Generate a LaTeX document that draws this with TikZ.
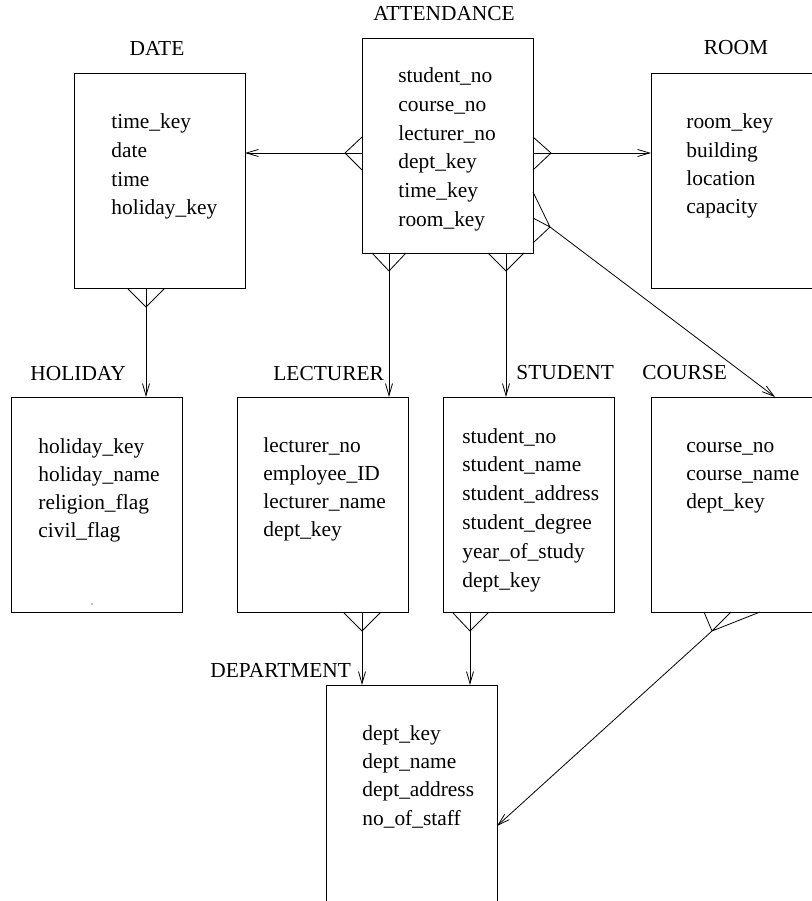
\documentclass[tikz,border=0pt]{standalone}
\usepackage{fontspec}
\usetikzlibrary{arrows.meta}
\newfontfamily\erfont{Liberation Serif}
\newcommand\fldfont{\erfont\fontsize{21.4}{28.5}\selectfont}
\begin{document}
\begin{tikzpicture}[x=1pt,y=-1pt,line width=0.8pt,
  box/.style={draw, rectangle, inner sep=0pt, outer sep=0pt, minimum width=171pt, minimum height=215pt},
  fld/.style={anchor=base west, inner sep=0pt, font=\fldfont},
  ttl/.style={anchor=base, inner sep=0pt, font=\fldfont},
  ttlw/.style={anchor=base west, inner sep=0pt, font=\fldfont},
  arr/.style={-{Straight Barb[length=12pt,width=7pt,line width=0.8pt]}}]
\useasboundingbox (0,0) rectangle (811,901);
% boxes
\node[box] (date) at (159.5,180.5) {};
\node[box] (att) at (447.5,145.5) {};
\node[box] (room) at (736.5,180.5) {};
\node[box] (hol) at (96.5,504.5) {};
\node[box] (lect) at (322.5,504.5) {};
\node[box] (stud) at (528.5,504.5) {};
\node[box] (course) at (736.5,504.5) {};
\node[box, minimum height=217pt] (dept) at (411.5,793.5) {};
% titles
\node[ttl] (tatt) at (444,21) {ATTENDANCE};
\node[ttl] (tdate) at (157,56) {DATE};
\node[ttl] (troom) at (736,55) {ROOM};
\node[ttlw] (thol) at (30,380) {HOLIDAY};
\node[ttlw] (tlect) at (273,380) {LECTURER};
\node[ttlw] (tstud) at (516,379) {STUDENT};
\node[ttlw] (tcourse) at (642,379) {COURSE};
\node[ttlw] (tdept) at (210,677) {DEPARTMENT};
% fields
\foreach \t [count=\i from 0] in {student\_no,course\_no,lecturer\_no,dept\_key,time\_key,room\_key}
  \node[fld] (att-\i) at (398,{83+28.6*\i}) {\t};
\foreach \t [count=\i from 0] in {time\_key,date,time,holiday\_key}
  \node[fld] (date-\i) at (111,{129+28.6*\i}) {\t};
\foreach \t [count=\i from 0] in {room\_key,building,location,capacity}
  \node[fld] (room-\i) at (686,{129+28.2*\i}) {\t};
\foreach \t [count=\i from 0] in {holiday\_key,holiday\_name,religion\_flag,civil\_flag}
  \node[fld] (hol-\i) at (38,{453+28.3*\i}) {\t};
\foreach \t [count=\i from 0] in {lecturer\_no,employee\_ID,lecturer\_name,dept\_key}
  \node[fld] (lect-\i) at (263,{452+28.3*\i}) {\t};
\foreach \t [count=\i from 0] in {student\_no,student\_name,student\_address,student\_degree,year\_of\_study,dept\_key}
  \node[fld] (stud-\i) at (462,{443+28.8*\i}) {\t};
\foreach \t [count=\i from 0] in {course\_no,course\_name,dept\_key}
  \node[fld] (course-\i) at (686,{452+28*\i}) {\t};
\foreach \t [count=\i from 0] in {dept\_key,dept\_name,dept\_address,no\_of\_staff}
  \node[fld] (dept-\i) at (362,{740+28.4*\i}) {\t};
% stray dot in HOLIDAY
\fill (92,604) circle (0.7pt);
% crow's feet tips
\coordinate (cfAL) at (345,153);
\coordinate (cfAR) at (551,153);
\coordinate (cfB1) at (389,271);
\coordinate (cfB2) at (506,271);
\coordinate (cfD) at (550,227);
\coordinate (cfDT) at (146,307);
\coordinate (cfL) at (362,631);
\coordinate (cfS) at (470,631);
\coordinate (cfC) at (712,631);
% ATTENDANCE -> DATE
\draw (cfAL) -- ++(17,-16) (cfAL) -- ++(17,17);
\draw[arr] (cfAL -| att.west) -- (cfAL -| date.east);
% ATTENDANCE -> ROOM
\draw (cfAR) -- ++(-18,-16) (cfAR) -- ++(-18,17);
\draw[arr] (cfAR -| att.east) -- (cfAR -| room.west);
% ATTENDANCE -> LECTURER
\draw (cfB1) -- ++(-17,-18) (cfB1) -- ++(17,-18);
\draw[arr] (cfB1 |- att.south) -- (cfB1 |- lect.north);
% ATTENDANCE -> STUDENT
\draw (cfB2) -- ++(-18,-18) (cfB2) -- ++(18,-18);
\draw[arr] (cfB2 |- att.south) -- (cfB2 |- stud.north);
% ATTENDANCE -> COURSE
\draw (cfD) -- (att.east |- 0,192) (cfD) -- (att.east |- 0,218) (cfD) -- (att.east |- 0,243);
\draw[arr] (cfD) -- ([xshift=38.5pt]course.north);
% DATE -> HOLIDAY
\draw (cfDT) -- ++(-18,-18) (cfDT) -- ++(18,-18);
\draw[arr] (cfDT |- date.south) -- (cfDT |- hol.north);
% LECTURER -> DEPARTMENT
\draw (cfL) -- ++(-18,-18) (cfL) -- ++(18,-18);
\draw[arr] (cfL |- lect.south) -- (cfL |- dept.north);
% STUDENT -> DEPARTMENT
\draw (cfS) -- ++(-17,-18) (cfS) -- ++(18,-18);
\draw[arr] (cfS |- stud.south) -- (cfS |- dept.north);
% COURSE -> DEPARTMENT
\draw (cfC) -- (704,612) (cfC) -- (731,612) (cfC) -- (760,612);
\draw[arr] (cfC) -- (dept.east |- 0,826);
\end{tikzpicture}
\end{document}
